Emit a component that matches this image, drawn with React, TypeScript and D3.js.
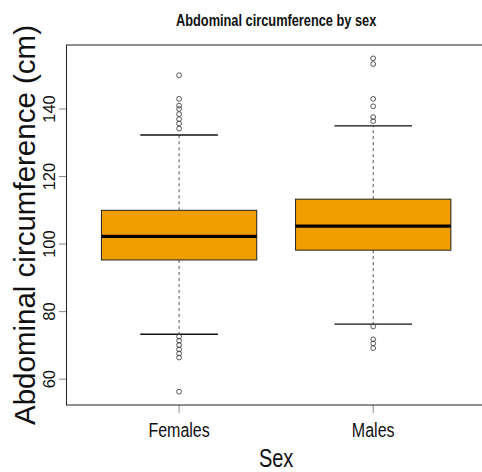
import React from 'react';
import * as d3 from 'd3';

const categories = ['Females', 'Males'];
const q1 = [95.3, 98.2];
const median = [102.3, 105.3];
const q3 = [110, 113.3];
const whiskerLow = [73.3, 76.3];
const whiskerHigh = [132.3, 135];
const outliersFemales = [150, 143, 141, 140, 138.5, 137, 135.7, 134.2, 72.6, 71.4, 70.1, 68.8, 67.6, 66.4, 56.3];
const outliersMales = [155, 153.3, 143, 140.8, 137.6, 136.4, 75.6, 71.8, 70.6, 69.2];
const yTicks = [60, 80, 100, 120, 140];

const W = 482;
const H = 472;
const FONT = "'Liberation Sans', Arial, sans-serif";

export default function App() {
  const outliers = [outliersFemales, outliersMales];
  const all = [...outliersFemales, ...outliersMales, ...whiskerLow, ...whiskerHigh];
  const [lo, hi] = d3.extent(all) as [number, number];
  const pad = (hi - lo) * 0.04;
  const y = d3.scaleLinear().domain([lo - pad, hi + pad]).range([405, 45]);
  const x = d3.scaleLinear().domain([0.42, 2.58]).range([66.5, 485.8]);
  const cx = (i: number) => x(i + 1);
  const k = 0.8;
  const midX = (x(0.42) + x(2.58)) / 2;

  return (
    <svg width={W} height={H} style={{ position: 'absolute', left: 0, top: 0, background: '#fff' }} fontFamily={FONT}>
      <rect x={0} y={0} width={W} height={H} fill="#fff" />
      <g transform={`translate(${midX},26) scale(${k},1)`}>
        <text textAnchor="middle" fontSize={16} fontWeight="bold" fill="#111">Abdominal circumference by sex</text>
      </g>
      {categories.map((c, i) => {
        const c0 = cx(i);
        const bl = x(i + 1 - 0.4);
        const br = x(i + 1 + 0.4);
        const sl = x(i + 1 - 0.2);
        const sr = x(i + 1 + 0.2);
        return (
          <g key={c}>
            <line x1={c0} x2={c0} y1={y(q3[i])} y2={y(whiskerHigh[i])} stroke="#555" strokeDasharray="3,3" />
            <line x1={c0} x2={c0} y1={y(q1[i])} y2={y(whiskerLow[i])} stroke="#555" strokeDasharray="3,3" />
            <line x1={sl} x2={sr} y1={y(whiskerHigh[i])} y2={y(whiskerHigh[i])} stroke="#111" strokeWidth={1.3} />
            <line x1={sl} x2={sr} y1={y(whiskerLow[i])} y2={y(whiskerLow[i])} stroke="#111" strokeWidth={1.3} />
            <rect x={bl} width={br - bl} y={y(q3[i])} height={y(q1[i]) - y(q3[i])} fill="#F09E00" stroke="#222" strokeWidth={1} />
            <line x1={bl} x2={br} y1={y(median[i])} y2={y(median[i])} stroke="#000" strokeWidth={3.2} />
            {outliers[i].map((v, j) => (
              <circle key={j} cx={c0} cy={y(v)} r={2.4} fill="none" stroke="#444" strokeWidth={0.9} />
            ))}
            <line x1={c0} x2={c0} y1={405} y2={413} stroke="#888" />
            <g transform={`translate(${c0},437) scale(${k},1)`}>
              <text textAnchor="middle" fontSize={20} fill="#111">{c}</text>
            </g>
          </g>
        );
      })}
      {yTicks.map((t) => (
        <g key={t}>
          <line x1={66.5} x2={59} y1={y(t)} y2={y(t)} stroke="#888" />
          <text transform={`translate(55,${y(t)}) rotate(-90)`} textAnchor="middle" fontSize={16.5} fill="#111">{t}</text>
        </g>
      ))}
      <rect x={66.5} y={45} width={x(2.58) - 66.5} height={360} fill="none" stroke="#222" strokeWidth={1} />
      <text transform={`translate(35,225) rotate(-90)`} textAnchor="middle" fontSize={29.5} fill="#111">Abdominal circumference (cm)</text>
      <g transform={`translate(${midX},467) scale(${k},1)`}>
        <text textAnchor="middle" fontSize={25} fill="#111">Sex</text>
      </g>
    </svg>
  );
}
